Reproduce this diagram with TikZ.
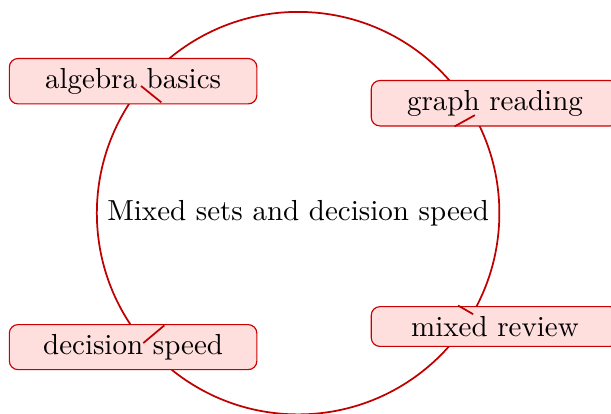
\documentclass[tikz,border=0pt]{standalone}
\usetikzlibrary{calc}

\colorlet{hubred}{red!75!black}
\colorlet{boxfill}{red!13}
\tikzset{
  hubnode/.style={circle,draw=hubred,semithick,inner sep=3.33pt},
  topicbox/.style={draw=red!80!black,fill=boxfill,rounded corners=3pt,minimum width=3cm,inner sep=3.33pt},
  tick/.style={hubred,semithick}
}

\begin{document}
\begin{tikzpicture}

\useasboundingbox (-102.8pt,-69pt) rectangle (107.9pt,73.5pt);

%centre circle
\node[hubnode] (hub) at (0,0) {Mixed sets and decision speed};

%topic boxes
\node[topicbox] (algebra) at (-56.9pt,45.5pt) {algebra basics};
\node[topicbox] (graph) at (67.9pt,37.9pt) {graph reading};
\node[topicbox] (review) at (67.9pt,-39.1pt) {mixed review};
\node[topicbox] (decision) at (-56.9pt,-46.2pt) {decision speed};

%ticks on the circle
\coordinate (algebraend) at ($(hub.141)!9pt!(hub.center)$);
\coordinate (graphend) at ($(hub.29)!8pt!(hub.center)$);
\coordinate (reviewend) at ($(hub.-30)!6pt!(hub.center)$);
\coordinate (decisionend) at ($(hub.-140)!9.5pt!(hub.center)$);
\draw[tick] (hub.141) -- (algebraend);
\draw[tick] (hub.29) -- (graphend);
\draw[tick] (hub.-30) -- (reviewend);
\draw[tick] (hub.-140) -- (decisionend);

\end{tikzpicture}
\end{document}
